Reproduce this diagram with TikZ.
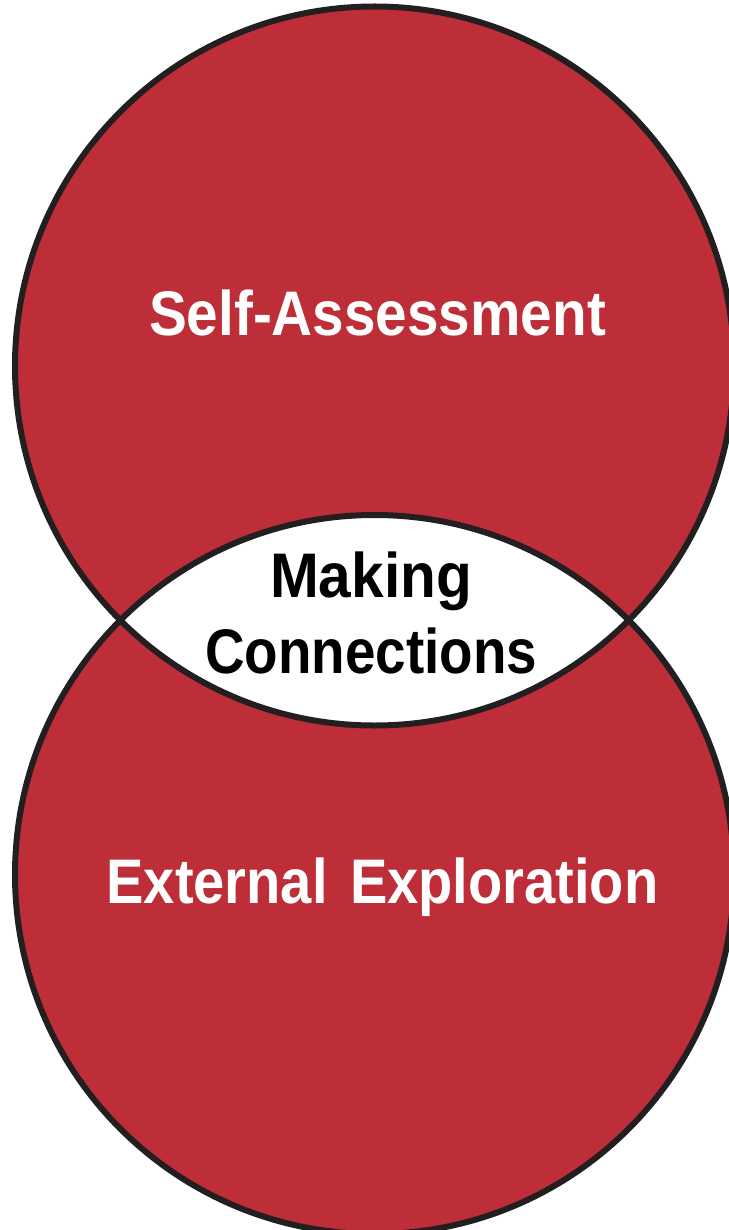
\documentclass[tikz,border=0pt]{standalone}
\usepackage{fontspec}
\setmainfont{Liberation Sans}
\usepackage{tikz}
\definecolor{vennred}{HTML}{BE2E38}
\definecolor{vennline}{HTML}{231F20}

\begin{document}
\begin{tikzpicture}[x=1pt, y=-1pt,
  venntext/.style={font=\fontsize{63}{76}\selectfont\bfseries, anchor=base, inner sep=0pt, align=center}]
\useasboundingbox (0,0) rectangle (728,1230);

% Two overlapping circles
\fill[vennred] (374.5,366) circle[radius=359.5];
\fill[vennred] (374.5,874.5) circle[radius=359.5];

% Overlap region
\begin{scope}
\clip (374.5,366) circle[radius=359.5];
\fill[white] (374.5,874.5) circle[radius=359.5];
\end{scope}

% Outlines
\draw[vennline, line width=6pt] (374.5,366) circle[radius=359.5];
\draw[vennline, line width=6pt] (374.5,874.5) circle[radius=359.5];

% Labels
\node[venntext, white] (self) at (377.5,335) {\scalebox{0.9}[1]{Self-Assessment}};
\node[venntext, black] (making) at (371,673) {\scalebox{0.93}[1]{Making}\\\scalebox{0.87}[1]{Connections}};
\node[venntext, white] (external) at (382.5,903) {\scalebox{0.89}[1]{External\hspace{0.4em}Exploration}};
\end{tikzpicture}
\end{document}
